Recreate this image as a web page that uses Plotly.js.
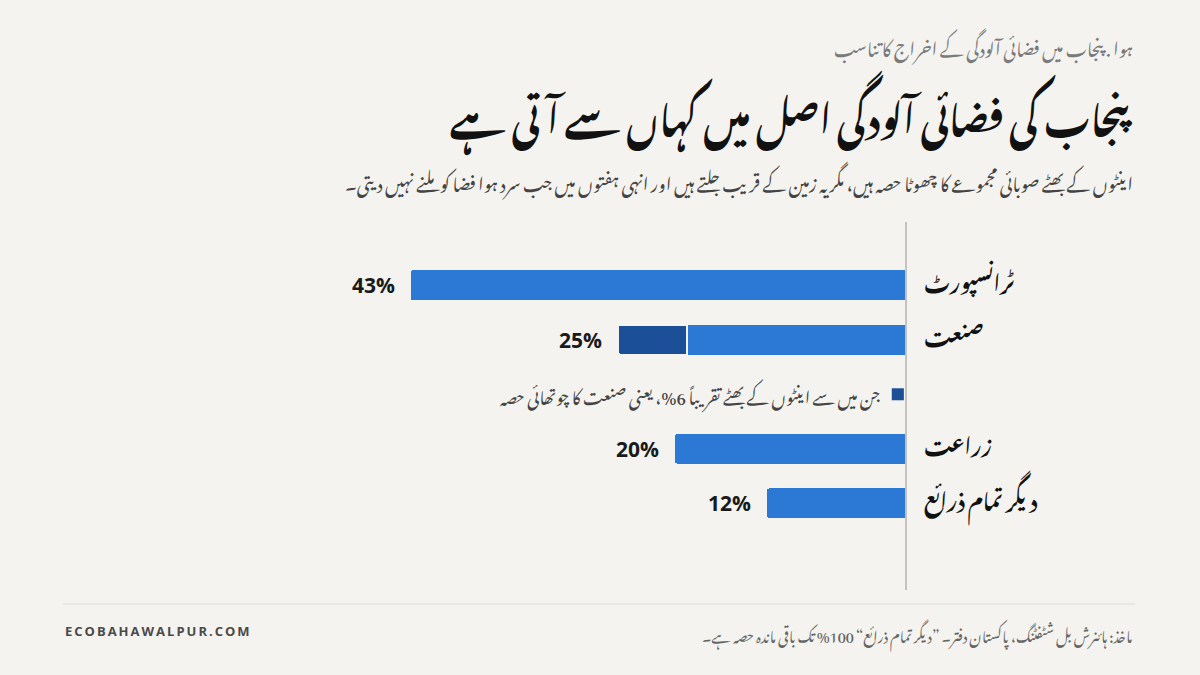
<!DOCTYPE html>
<html>
<head>
<meta charset="utf-8">
<script src="https://cdn.plot.ly/plotly-3.0.1.min.js"></script>
<style>html,body{margin:0;padding:0;background:#f4f3ef;}#chart{width:1200px;height:675px;}</style>
</head>
<body>
<div id="chart"></div>
<script>
// ---- data ----
const categories = ["ٹرانسپورٹ", "صنعت", " ", "زراعت", "دیگر تمام ذرائع"];
const totalShare = [43, 25, null, 20, 12];          // % of provincial emissions
const brickKilnShare = [0, 6, null, 0, 0];           // brick kilns part of industry
const valueLabels = ["43%", "25%", "", "20%", "12%"];

const kicker = "ہوا . پنجاب میں فضائی آلودگی کے اخراج کا تناسب";
const titleText = "پنجاب کی فضائی آلودگی اصل میں کہاں سے آتی ہے";
const subtitleText = "اینٹوں کے بھٹے صوبائی مجموعے کا چھوٹا حصہ ہیں، مگر یہ زمین کے قریب جلتے ہیں اور انہی ہفتوں میں جب سرد ہوا فضا کو ملنے نہیں دیتی۔";
const noteText = "جن میں سے اینٹوں کے بھٹے تقریباً 6%، یعنی صنعت کا چوتھائی حصہ";
const sourceText = "ماخذ: ہائنرش بل شٹفٹنگ، پاکستان دفتر۔ ”دیگر تمام ذرائع“ 100% تک باقی ماندہ حصہ ہے۔";
const brandText = "ECOBAHAWALPUR.COM";

// ---- styling ----
const URDU = "'Noto Nastaliq Urdu', 'Noto Naskh Arabic', 'Noto Sans Arabic', 'DejaVu Sans', sans-serif";
const SANS = "'Open Sans', 'Noto Sans', sans-serif";
const BG = "#f4f3ef";
const BLUE = "#2b78d5";
const DARK = "#1b4f97";

// plot area in pixels
const L = 330, R = 905, T = 222, B = 590;
const px = x => (x - L) / (R - L);
const py = y => (B - y) / (B - T);

const restShare = totalShare.map((v, i) => v == null ? null : v - brickKilnShare[i]);
const kilnOnly = brickKilnShare.map(v => v ? v : null);

const traces = [
  {
    type: "bar", orientation: "h",
    y: categories, x: restShare,
    marker: {color: BLUE},
    hoverinfo: "skip"
  },
  {
    type: "bar", orientation: "h",
    y: categories, x: kilnOnly,
    marker: {color: DARK, line: {color: BG, width: 2}},
    hoverinfo: "skip"
  }
];

const annotations = [];
categories.forEach((c, i) => {
  if (totalShare[i] == null) return;
  annotations.push({
    x: totalShare[i], y: c, xref: "x", yref: "y",
    text: valueLabels[i], showarrow: false,
    xanchor: "right", xshift: -14,
    font: {family: SANS, size: 21, color: "#1a1a1a", weight: 700}
  });
});
annotations.push({
  x: 1.9, y: " ", xref: "x", yref: "y", text: noteText, showarrow: false,
  xanchor: "right", yanchor: "middle",
  font: {family: URDU, size: 17, color: "#444"}
});
annotations.push({
  x: px(1135), y: py(45), xref: "paper", yref: "paper", text: kicker, showarrow: false,
  xanchor: "right", yanchor: "middle", font: {family: URDU, size: 18, color: "#7a7a7a"}
});
annotations.push({
  x: px(1135), y: py(113), xref: "paper", yref: "paper", text: "<b>" + titleText + "</b>", showarrow: false,
  xanchor: "right", yanchor: "middle", font: {family: URDU, size: 37.5, color: "#111"}
});
annotations.push({
  x: px(1135), y: py(181), xref: "paper", yref: "paper", text: subtitleText, showarrow: false,
  xanchor: "right", yanchor: "middle", font: {family: URDU, size: 17.8, color: "#444"}
});
annotations.push({
  x: px(63), y: py(631), xref: "paper", yref: "paper",
  text: "<b><span style='letter-spacing:2px'>" + brandText + "</span></b>", showarrow: false,
  xanchor: "left", yanchor: "middle", font: {family: SANS, size: 13, color: "#4a4a4a"}
});
annotations.push({
  x: px(1135), y: py(633), xref: "paper", yref: "paper", text: sourceText, showarrow: false,
  xanchor: "right", yanchor: "middle", font: {family: URDU, size: 14.5, color: "#666"}
});

const shapes = [
  // footer rule
  {type: "line", xref: "paper", yref: "paper", x0: px(63), x1: px(1135), y0: py(604), y1: py(604),
   line: {color: "#dcdbd5", width: 1}},
  // legend key for brick kilns
  {type: "rect", xref: "x", yref: "y", x0: 0.1, x1: 1.15, y0: 2 - 0.11, y1: 2 + 0.11,
   fillcolor: DARK, line: {width: 0}}
];

const layout = {
  width: 1200, height: 675,
  paper_bgcolor: BG, plot_bgcolor: BG,
  margin: {l: L, r: 1200 - R, t: T, b: 675 - B, pad: 0},
  barmode: "stack",
  bargap: 0.45,
  barcornerradius: 3,
  showlegend: false,
  hovermode: false,
  xaxis: {range: [50, 0], showgrid: false, zeroline: false, showticklabels: false, showline: false, fixedrange: true},
  yaxis: {
    type: "category", categoryorder: "array", categoryarray: categories,
    range: [5.59, -1.16], side: "right",
    showline: true, linecolor: "#c3c2bc", linewidth: 2,
    showgrid: false, zeroline: false, ticks: "", ticklabelstandoff: 13,
    tickfont: {family: URDU, size: 21, color: "#111", weight: 700},
    fixedrange: true
  },
  annotations: annotations,
  shapes: shapes
};

Plotly.newPlot("chart", traces, layout, {displayModeBar: false, staticPlot: true});
</script>
</body>
</html>
